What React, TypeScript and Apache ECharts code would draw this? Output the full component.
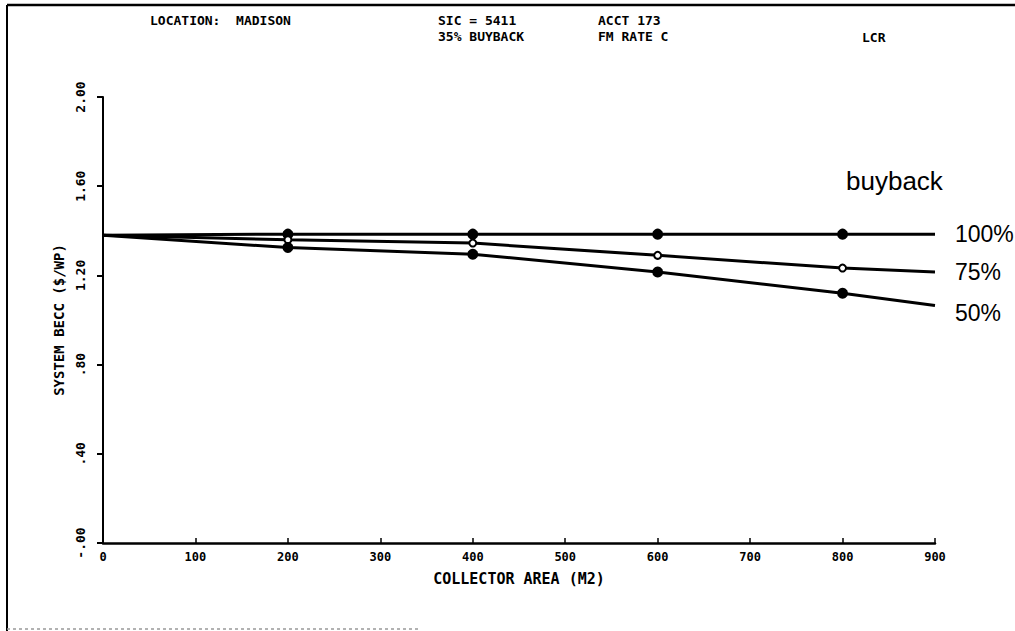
import React, { useEffect, useRef } from "react";
import * as echarts from "echarts";

const xValues = [0, 200, 400, 600, 800, 900];
const seriesNames = ["100%", "75%", "50%"];
const buyback100 = [1.38, 1.385, 1.385, 1.385, 1.385, 1.385];
const buyback75 = [1.38, 1.36, 1.345, 1.29, 1.233, 1.215];
const buyback50 = [1.38, 1.325, 1.295, 1.215, 1.12, 1.065];
const yTickLabels: Record<string, string> = {
  "0": "-.00",
  "0.4": ".40",
  "0.8": ".80",
  "1.2": "1.20",
  "1.6": "1.60",
  "2": "2.00",
};

const MONO = "'DejaVu Sans Mono', 'Liberation Mono', monospace";
const SANS = "'Liberation Sans', Arial, sans-serif";

export default function App() {
  const ref = useRef<HTMLDivElement>(null);
  useEffect(() => {
    if (!ref.current) return;
    const chart = echarts.init(ref.current, null, { renderer: "svg" });
    const values = [buyback100, buyback75, buyback50];
    const symbols = ["circle", "emptyCircle", "circle"];
    const labelOffsets = [
      [0, 0],
      [0, 0],
      [0, 7],
    ];
    const series = values.map((arr, si) => ({
      name: seriesNames[si],
      type: "line",
      data: arr.map((v, i) => {
        const item: any = { value: [xValues[i], v] };
        if (i === 0 || i === arr.length - 1) item.symbol = "none";
        return item;
      }),
      symbol: symbols[si],
      symbolSize: si === 1 ? 7 : 9,
      showAllSymbol: true,
      lineStyle: { color: "#000", width: 3 },
      itemStyle: { color: "#000", borderColor: "#000", borderWidth: 2 },
      endLabel: {
        show: true,
        formatter: seriesNames[si],
        distance: 20,
        offset: labelOffsets[si],
        color: "#000",
        fontFamily: SANS,
        fontSize: 23,
      },
      emphasis: { disabled: true },
    }));
    const hdr = `bold 13px ${MONO}`;
    chart.setOption({
      animation: false,
      backgroundColor: "#fff",
      grid: { left: 103, right: 80, top: 97, bottom: 88 },
      xAxis: {
        type: "value",
        min: 0,
        max: 900,
        interval: 100,
        name: "COLLECTOR AREA (M2)",
        nameLocation: "middle",
        nameGap: 28,
        nameTextStyle: { fontFamily: MONO, fontSize: 15, fontWeight: "bold", color: "#000" },
        axisLine: { show: true, lineStyle: { color: "#000", width: 2.5 } },
        axisTick: { show: true, inside: true, length: 5, lineStyle: { color: "#000", width: 1.5 } },
        axisLabel: { fontFamily: MONO, fontSize: 12, fontWeight: "bold", color: "#000", margin: 8 },
        splitLine: { show: false },
      },
      yAxis: {
        type: "value",
        min: 0,
        max: 2,
        interval: 0.4,
        name: "SYSTEM BECC ($/WP)",
        nameLocation: "middle",
        nameRotate: 90,
        nameGap: 34,
        nameTextStyle: { fontFamily: MONO, fontSize: 14, fontWeight: "bold", color: "#000" },
        axisLine: { show: true, lineStyle: { color: "#000", width: 2 } },
        axisTick: { show: true, length: 6, lineStyle: { color: "#000", width: 2 } },
        axisLabel: {
          rotate: 90,
          fontFamily: MONO,
          fontSize: 13,
          fontWeight: "bold",
          color: "#000",
          margin: 16,
          formatter: (v: number) => yTickLabels[String(Math.round(v * 10) / 10)] ?? String(v),
        },
        splitLine: { show: false },
      },
      series,
      graphic: [
        { type: "line", shape: { x1: 7, y1: 5, x2: 1015, y2: 5 }, style: { stroke: "#000", lineWidth: 2.5 } },
        { type: "line", shape: { x1: 7, y1: 5, x2: 7, y2: 631 }, style: { stroke: "#000", lineWidth: 2 } },
        { type: "line", shape: { x1: 7, y1: 629, x2: 420, y2: 629 }, style: { stroke: "#999", lineWidth: 1.5, lineDash: [3, 3] } },
        { type: "text", x: 150, y: 20, style: { text: "LOCATION:  MADISON", font: hdr, fill: "#000", verticalAlign: "middle" } },
        { type: "text", x: 438, y: 20, style: { text: "SIC = 5411", font: hdr, fill: "#000", verticalAlign: "middle" } },
        { type: "text", x: 438, y: 36, style: { text: "35% BUYBACK", font: hdr, fill: "#000", verticalAlign: "middle" } },
        { type: "text", x: 598, y: 20, style: { text: "ACCT 173", font: hdr, fill: "#000", verticalAlign: "middle" } },
        { type: "text", x: 598, y: 36, style: { text: "FM RATE C", font: hdr, fill: "#000", verticalAlign: "middle" } },
        { type: "text", x: 862, y: 37, style: { text: "LCR", font: hdr, fill: "#000", verticalAlign: "middle" } },
        { type: "text", x: 846, y: 181, style: { text: "buyback", font: `26px ${SANS}`, fill: "#000", verticalAlign: "middle" } },
      ],
    });
    return () => chart.dispose();
  }, []);
  return (
    <div
      ref={ref}
      style={{ position: "fixed", left: 0, top: 0, width: 1015, height: 631, background: "#fff" }}
    />
  );
}
